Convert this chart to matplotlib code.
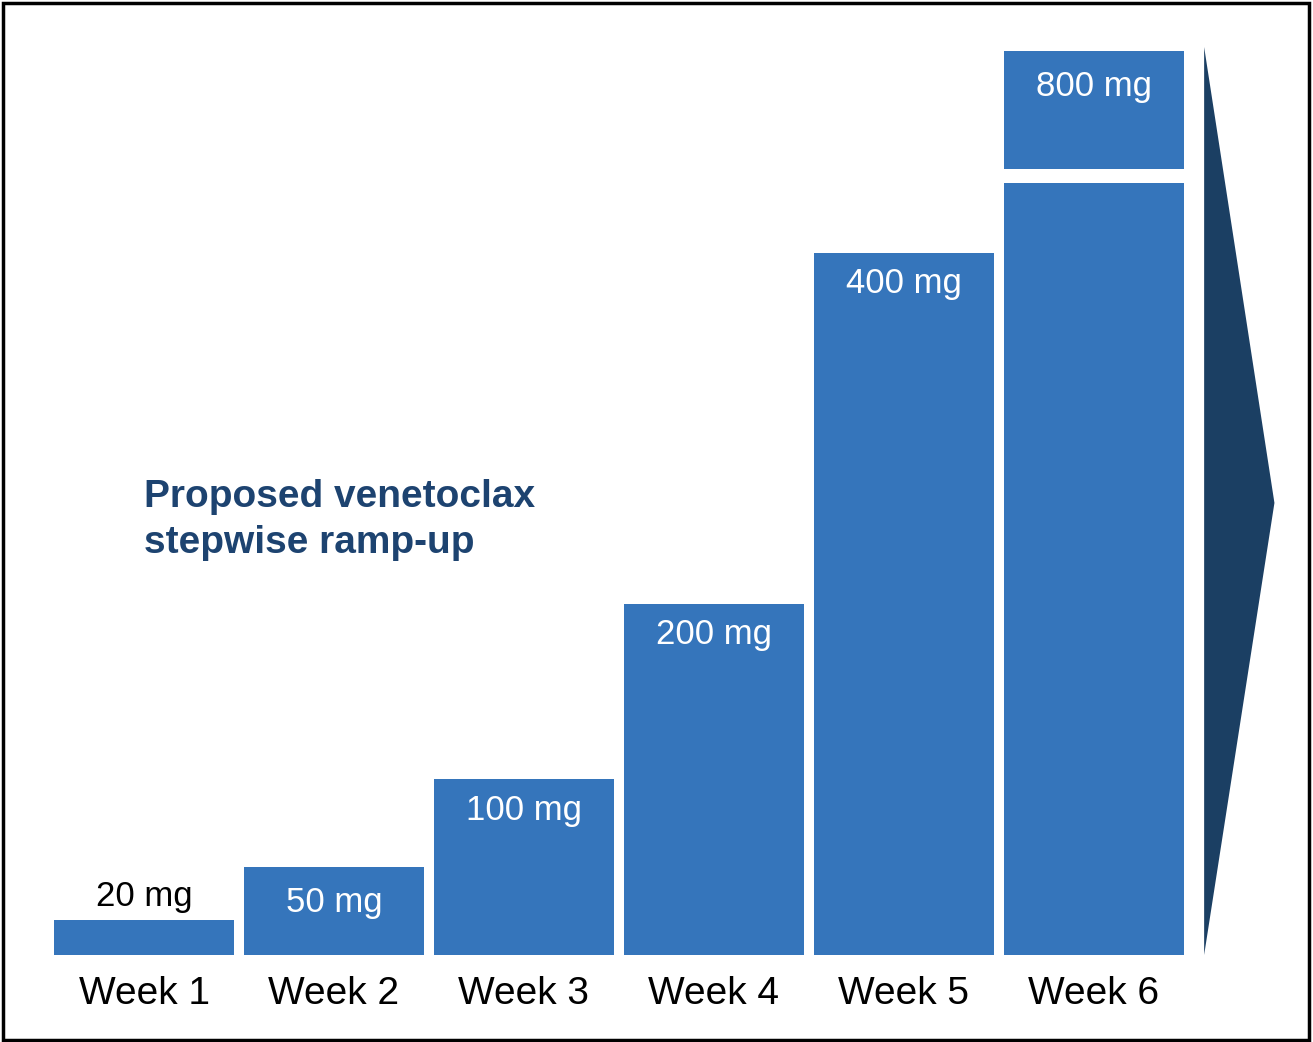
import matplotlib.pyplot as plt
from matplotlib.patches import Rectangle, Polygon

weeks = ['Week 1', 'Week 2', 'Week 3', 'Week 4', 'Week 5', 'Week 6']
doses = [20, 50, 100, 200, 400, 800]
dose_labels = ['20 mg', '50 mg', '100 mg', '200 mg', '400 mg', '800 mg']

# the last bar does not fit the scale, so it is drawn broken
break_lo = 440
break_hi = 448
bar_top = 515

blue = '#3575bb'
navy = '#1b3f63'

plt.rcParams['font.family'] = ['Liberation Sans', 'DejaVu Sans']

fig = plt.figure(figsize=(13.13, 10.42), dpi=100)
ax = fig.add_axes([0, 0, 1, 1])
ax.set_xlim(-0.758, 6.153)
ax.set_ylim(-49.6, 544.2)
ax.axis('off')

width = 180 / 190

for i, d in enumerate(doses):
    if d > break_lo:
        ax.bar(i, break_lo, width, color=blue)
        ax.bar(i, bar_top - break_hi, width, bottom=break_hi, color=blue)
        top = bar_top
        off = -20
    else:
        ax.bar(i, d, width, color=blue)
        top = d
        off = -20 if d < 80 else -17.5
    if d < 40:
        ax.text(i, top + 13.5, dose_labels[i], ha='center', va='center',
                fontsize=25, color='black')
    else:
        ax.text(i, top + off, dose_labels[i], ha='center', va='center',
                fontsize=25, color='white')
    ax.text(i, -22.5, weeks[i], ha='center', va='center', fontsize=28,
            color='black')

# arrow on the right
ax.add_patch(Polygon([(5.58, 517.4), (5.95, 257.6), (5.58, 0)],
                     closed=True, color=navy, lw=0))

ax.text(0, 248, 'Proposed venetoclax\nstepwise ramp-up', ha='left',
        va='center', fontsize=28, fontweight='bold', color='#1d4370',
        linespacing=1.35)

# frame round the figure
fig.patches.append(Rectangle((0.002, 0.002), 0.995, 0.995, fill=False,
                             ec='black', lw=2.5, transform=fig.transFigure))

fig.savefig('out.png', dpi=100)
